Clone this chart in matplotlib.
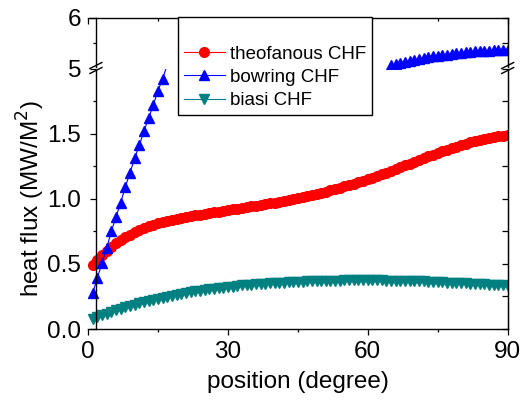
import numpy as np
import matplotlib
matplotlib.use("Agg")
import matplotlib.pyplot as plt
from matplotlib.lines import Line2D

plt.rcParams['font.family'] = ['Liberation Sans', 'DejaVu Sans']

# ---- data ----
position = list(range(1, 91))

theofanous = [0.49, 0.53, 0.57, 0.60, 0.63, 0.66, 0.685, 0.705, 0.725, 0.745,
              0.76, 0.775, 0.788, 0.80, 0.81, 0.82, 0.828, 0.836, 0.844, 0.852,
              0.859, 0.866, 0.872, 0.878, 0.884, 0.890, 0.896, 0.902, 0.908, 0.913,
              0.919, 0.925, 0.930, 0.936, 0.942, 0.948, 0.953, 0.959, 0.965, 0.971,
              0.977, 0.983, 0.990, 0.997, 1.004, 1.012, 1.020, 1.028, 1.037, 1.046,
              1.055, 1.065, 1.075, 1.085, 1.095, 1.105, 1.116, 1.127, 1.138, 1.150,
              1.162, 1.175, 1.188, 1.201, 1.214, 1.228, 1.242, 1.256, 1.270, 1.284,
              1.298, 1.312, 1.326, 1.339, 1.352, 1.365, 1.377, 1.389, 1.401, 1.412,
              1.423, 1.433, 1.443, 1.452, 1.460, 1.467, 1.474, 1.480, 1.485, 1.490]

biasi = [0.075, 0.090, 0.105, 0.118, 0.131, 0.143, 0.155, 0.166, 0.177, 0.187,
         0.197, 0.206, 0.215, 0.224, 0.232, 0.240, 0.248, 0.255, 0.262, 0.269,
         0.276, 0.282, 0.288, 0.294, 0.299, 0.304, 0.309, 0.314, 0.318, 0.322,
         0.326, 0.330, 0.334, 0.337, 0.340, 0.343, 0.346, 0.349, 0.351, 0.353,
         0.355, 0.357, 0.359, 0.361, 0.363, 0.364, 0.366, 0.367, 0.368, 0.369,
         0.370, 0.371, 0.372, 0.372, 0.373, 0.373, 0.374, 0.374, 0.374, 0.374,
         0.374, 0.373, 0.373, 0.372, 0.372, 0.371, 0.370, 0.369, 0.368, 0.367,
         0.366, 0.365, 0.364, 0.362, 0.361, 0.359, 0.357, 0.356, 0.354, 0.352,
         0.350, 0.348, 0.346, 0.344, 0.342, 0.340, 0.338, 0.336, 0.334, 0.332]

# bowring: visible low part (1..17 deg) and high part (64..90 deg); the rest lies in the axis break
bowring_low = [0.275, 0.39, 0.51, 0.62, 0.75, 0.86, 0.97, 1.09, 1.20, 1.31,
               1.41, 1.52, 1.62, 1.72, 1.83, 1.92, 2.03]
bowring_high = [4.98, 5.06, 5.08, 5.10, 5.12, 5.15, 5.17, 5.19, 5.21, 5.23,
                5.24, 5.25, 5.26, 5.27, 5.29, 5.30, 5.31, 5.32, 5.33, 5.34,
                5.345, 5.35, 5.355, 5.36, 5.365, 5.37, 5.37]
bowring = bowring_low + [np.nan] * (90 - len(bowring_low) - len(bowring_high)) + bowring_high

xticks = [0, 30, 60, 90]
yticks_low = [0.0, 0.5, 1.0, 1.5]
ytick_labels_low = ['0.0', '0.5', '1.0', '1.5']
yticks_high = [5, 6]

labels = ['theofanous CHF', 'bowring CHF', 'biasi CHF']
colors = ['#ff0000', '#0000ff', '#008080']

# ---- figure ----
W, H = 522, 401
fig = plt.figure(figsize=(W / 100, H / 100), dpi=100)

def fx(px):
    return px / W

def fy(py):
    return 1 - py / H

x0, x1 = 88, 507.7
y_top, y_break, y_bot = 18, 68.5, 329
ax_lo = fig.add_axes([fx(x0), fy(y_bot), fx(x1) - fx(x0), fy(y_break) - fy(y_bot)])
ax_hi = fig.add_axes([fx(x0), fy(y_break), fx(x1) - fx(x0), fy(y_top) - fy(y_break)], sharex=ax_lo)

lw = 0.8
ms = 7
lims = {ax_lo: (0, 2.0), ax_hi: (5, 6)}
for ax in (ax_lo, ax_hi):
    lo, hi = lims[ax]
    ax.set_ylim(lo, hi)
    ax.plot(position, theofanous, color=colors[0], marker='o', ms=ms, lw=lw, mec=colors[0])
    vis = [i for i, v in enumerate(bowring) if not np.isnan(v) and lo <= v <= hi]
    ax.plot(position, bowring, color=colors[1], marker='^', ms=ms, lw=lw, mec=colors[1], markevery=vis)
    ax.plot(position, biasi, color=colors[2], marker='v', ms=ms, lw=lw, mec=colors[2])
    ax.set_xlim(0, 90)
    ax.spines['left'].set_position(('data', 1.7))
    for s in ax.spines.values():
        s.set_linewidth(1.0)

ax_lo.spines['top'].set_visible(False)
ax_hi.spines['bottom'].set_visible(False)
ax_lo.spines['left'].set_bounds(0, 1.985)
ax_lo.spines['right'].set_bounds(0, 1.985)
ax_hi.spines['left'].set_bounds(5.03, 6)
ax_hi.spines['right'].set_bounds(5.03, 6)

fs_tick = 17.5
# lower axes ticks
ax_lo.set_xticks(xticks)
ax_lo.set_xticks(range(15, 90, 30), minor=True)
ax_lo.set_yticks(yticks_low)
ax_lo.set_yticklabels(ytick_labels_low)
ax_lo.set_yticks(np.arange(0.25, 2.0, 0.5), minor=True)
ax_lo.tick_params(axis='x', which='both', direction='out', bottom=True, top=False, labelsize=fs_tick, pad=4)
ax_lo.tick_params(axis='y', which='both', direction='out', left=True, right=False, labelsize=fs_tick, pad=6)
ax_lo.tick_params(which='major', length=4.5, width=0.9)
ax_lo.tick_params(which='minor', length=2.3, width=0.9)
sec = ax_lo.secondary_yaxis('right')
sec.set_yticks(yticks_low)
sec.set_yticks(np.arange(0.25, 2.0, 0.5), minor=True)
sec.tick_params(which='both', direction='in', labelright=False, width=0.9)
sec.tick_params(which='major', length=4.5)
sec.tick_params(which='minor', length=4.0)
sec.spines['right'].set_bounds(0, 1.985)

# upper axes ticks
ax_hi.set_yticks(yticks_high)
ax_hi.set_yticks([5.5], minor=True)
ax_hi.tick_params(axis='x', which='both', direction='in', bottom=False, top=True, labelbottom=False, labeltop=False)
ax_hi.set_xticks(range(15, 90, 30), minor=True)
ax_hi.tick_params(axis='y', which='both', direction='out', left=True, right=False, labelsize=fs_tick, pad=6)
ax_hi.tick_params(which='major', length=4.5, width=0.9)
ax_hi.tick_params(which='minor', length=2.3, width=0.9)
sec2 = ax_hi.secondary_yaxis('right')
sec2.set_yticks(yticks_high)
sec2.set_yticks([5.5], minor=True)
sec2.tick_params(which='both', direction='in', labelright=False, width=0.9, length=4.0)
sec2.spines['right'].set_bounds(5.03, 6)

ax_lo.set_xlabel('position (degree)', fontsize=17.5, labelpad=6)
ax_lo.set_ylabel('heat flux (MW/M$^2$)', fontsize=17.5, labelpad=0)

# break marks on left and right spines
fig.canvas.draw()
for xd in (1.7, 90):
    xpix = ax_lo.transData.transform((xd, 0))[0]
    for yc in (65.5, 70.5):
        ypix = H - yc
        xs = [xpix - 6, xpix + 6]
        ys = [ypix - 3, ypix + 3]
        fig.add_artist(Line2D([v / W for v in xs], [v / H for v in ys], color='black', lw=1.0,
                              transform=fig.transFigure))

# legend
handles = [Line2D([], [], linestyle='none', label=' ')]
handles += [Line2D([], [], color=colors[0], marker='o', ms=ms, lw=lw, label=labels[0]),
            Line2D([], [], color=colors[1], marker='^', ms=ms, lw=lw, label=labels[1]),
            Line2D([], [], color=colors[2], marker='v', ms=ms, lw=lw, label=labels[2])]
leg = fig.legend(handles=handles, loc='upper left', bbox_to_anchor=(fx(178), fy(17)),
                 fontsize=13.5, frameon=True, fancybox=False, framealpha=1,
                 edgecolor='black', borderpad=0.3, labelspacing=0.32,
                 handlelength=2.2, handletextpad=0.3, borderaxespad=0)
leg.get_frame().set_linewidth(1.0)

fig.savefig('out.png', dpi=100)
